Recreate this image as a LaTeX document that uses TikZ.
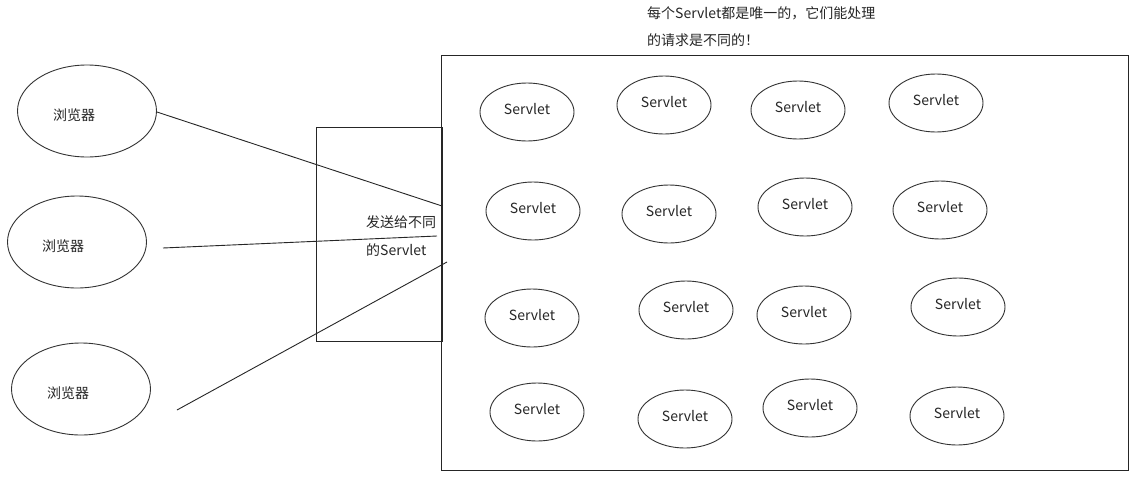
\documentclass[tikz,border=0pt]{standalone}
\usepackage{fontspec}
\setmainfont{Noto Sans CJK SC}
\usetikzlibrary{shapes.geometric}
\tikzset{
  line/.style={draw=black!85, line width=0.9pt},
  browser/.style={ellipse, draw=black!80, line width=0.9pt, minimum width=139pt, minimum height=92pt, inner sep=0pt},
  servlet/.style={ellipse, draw=black!80, line width=0.9pt, minimum width=94pt, minimum height=58pt, inner sep=0pt, font=\fontsize{14}{17}\selectfont, text=black!85, text height=10.5pt, text depth=5pt},
  txt/.style={font=\fontsize{14}{17}\selectfont, text=black!85, inner sep=0pt},
  box/.style={draw=black!85, line width=0.9pt}
}
\begin{document}
\begin{tikzpicture}[x=1pt,y=-1pt]
\useasboundingbox (0,0) rectangle (1138,477);
\fill[white] (0,0) rectangle (1138,477);
% top caption
\node[txt, anchor=west] (cap1) at (647,13) {每个Servlet都是唯一的，它们能处理};
\node[txt, anchor=west] (cap2) at (647,40) {的请求是不同的！};
% big container
\draw[box] (441,55) rectangle (1128,470);
% dispatcher box
\node[box, rectangle, minimum width=126pt, minimum height=214pt, inner sep=0pt] (disp) at (379,234) {};
\node[txt, anchor=west] (d1) at (366,222) {发送给不同};
\node[txt, anchor=west] (d2) at (366,250) {的Servlet};
% browsers
\node[browser] (b1) at (87,111) {};
\node[browser] (b2) at (77,242) {};
\node[browser] (b3) at (81,389) {};
\node[txt] (t1) at (74,115) {浏览器};
\node[txt] (t2) at (63,246) {浏览器};
\node[txt] (t3) at (68,393) {浏览器};
% line ends
\coordinate (s2) at (163,248);
\coordinate (s3) at (177,410);
\coordinate (e1) at (442,206);
\coordinate (e2) at (437,236);
\coordinate (e3) at (447,262);
\draw[line] (b1.east) ++(0,1) -- (e1);
\draw[line] (s2) -- (e2);
\draw[line] (s3) -- (e3);
% servlets
\node[servlet] (s11) at (527,112) {Servlet};
\node[servlet] (s12) at (664,105) {Servlet};
\node[servlet] (s13) at (798,110) {Servlet};
\node[servlet] (s14) at (936,103) {Servlet};
\node[servlet] (s21) at (533,211) {Servlet};
\node[servlet] (s22) at (669,214) {Servlet};
\node[servlet] (s23) at (805,207) {Servlet};
\node[servlet] (s24) at (940,210) {Servlet};
\node[servlet] (s31) at (532,318) {Servlet};
\node[servlet] (s32) at (686,310) {Servlet};
\node[servlet] (s33) at (804,315) {Servlet};
\node[servlet] (s34) at (958,307) {Servlet};
\node[servlet] (s41) at (537,412) {Servlet};
\node[servlet] (s42) at (685,419) {Servlet};
\node[servlet] (s43) at (810,408) {Servlet};
\node[servlet] (s44) at (957,416) {Servlet};
\end{tikzpicture}
\end{document}
